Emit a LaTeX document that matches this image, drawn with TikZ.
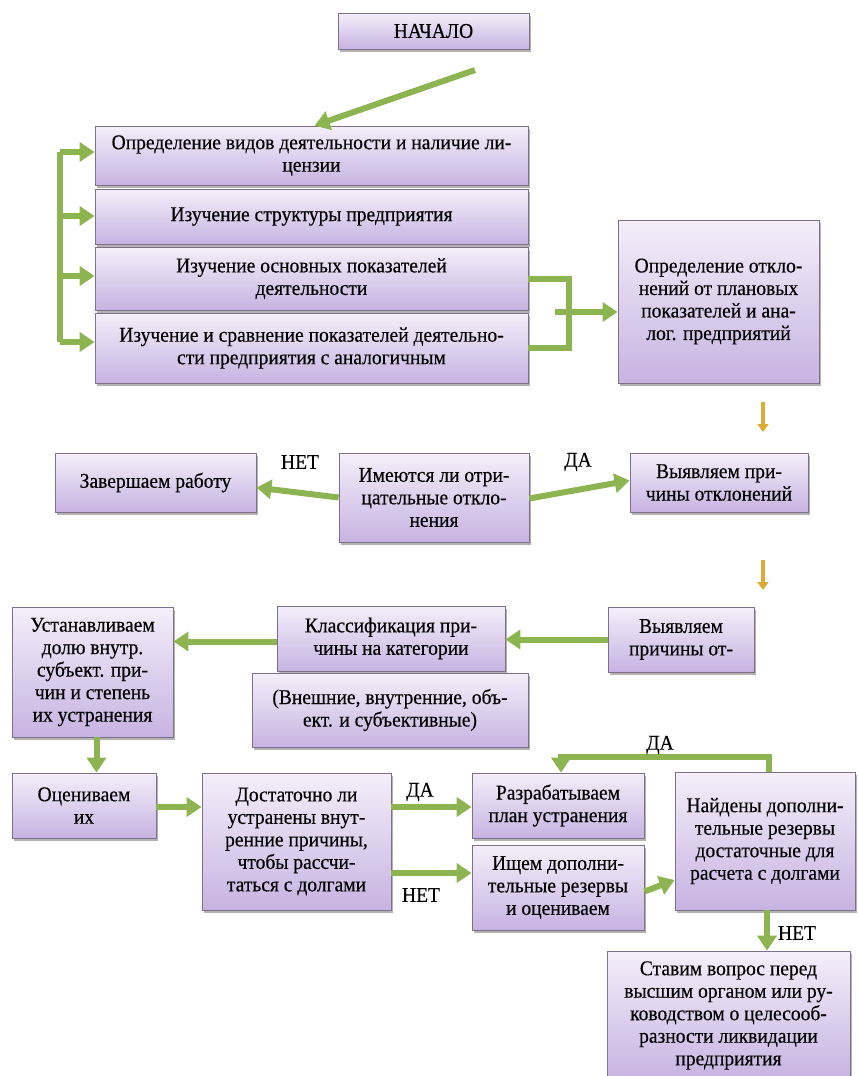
\documentclass[tikz,border=0pt]{standalone}
\usepackage{fontspec}
\setmainfont{Liberation Serif}[FakeStretch=0.93, FakeBold=0.3]
\usetikzlibrary{arrows.meta,shadows}

\definecolor{boxtop}{HTML}{F4EFFA}
\definecolor{boxbot}{HTML}{C7B3E2}
\definecolor{boxline}{HTML}{7D7189}
\definecolor{arrgreen}{HTML}{8CB552}
\definecolor{arrgold}{HTML}{DDAA35}

\begin{document}
\begin{tikzpicture}[x=1pt, y=-1pt,
  font=\fontsize{21}{22.5}\selectfont,
  box/.style={draw=boxline, thick, top color=boxtop, bottom color=boxbot,
    align=center, inner sep=2pt,
    drop shadow={shadow xshift=2pt, shadow yshift=-3pt, opacity=.3, fill=black}},
  garr/.style={draw=arrgreen, line width=6pt, -{Triangle[length=15pt,width=19pt]}},
  gline/.style={draw=arrgreen, line width=6pt},
  oarr/.style={draw=arrgold, line width=4pt, -{Triangle[length=8pt,width=11pt]}},
  lbl/.style={inner sep=0pt}]
  \useasboundingbox (0,0) rectangle (857,1076);

  % first block
  \node[box, minimum width=191pt, minimum height=36pt] (start) at (433.5,31) {НАЧАЛО};
  \node[box, minimum width=433pt, minimum height=59pt] (b1) at (311.5,155.5)
    {Определение видов деятельности и наличие ли-\\цензии};
  \node[box, minimum width=433pt, minimum height=55pt] (b2) at (311.5,216.5)
    {Изучение структуры предприятия};
  \node[box, minimum width=433pt, minimum height=63pt] (b3) at (311.5,278.5)
    {Изучение основных показателей\\деятельности};
  \node[box, minimum width=433pt, minimum height=70pt] (b4) at (311.5,348)
    {Изучение и сравнение показателей деятельно-\\сти предприятия с аналогичным};
  \node[box, minimum width=201pt, minimum height=163pt] (dev) at (718.5,301.5)
    {Определение откло-\\нений от плановых\\показателей и ана-\\лог. предприятий};

  % decision on deviations
  \node[box, minimum width=201pt, minimum height=59pt] (finish) at (155.5,482.5) {Завершаем работу};
  \node[box, minimum width=190pt, minimum height=89pt] (neg) at (434,497.5)
    {Имеются ли отри-\\цательные откло-\\нения};
  \node[box, minimum width=178pt, minimum height=59pt] (cause) at (719,482.5)
    {Выявляем при-\\чины отклонений};

  % causes
  \node[box, minimum width=146pt, minimum height=65pt] (cause2) at (681,639.5)
    {Выявляем\\причины от-};
  \node[box, minimum width=228pt, minimum height=65pt] (classif) at (391,638.5)
    {Классификация при-\\чины на категории};
  \node[box, minimum width=276pt, minimum height=74pt] (cats) at (390,710)
    {(Внешние, внутренние, объ-\\ект. и субъективные)};
  \node[box, minimum width=161pt, minimum height=130pt] (share) at (92.5,672)
    {Устанавливаем\\долю внутр.\\субъект. при-\\чин и степень\\их устранения};

  % debts
  \node[box, minimum width=144pt, minimum height=65pt] (eval) at (84,805.5) {Оцениваем\\их};
  \node[box, minimum width=189pt, minimum height=137pt] (enough) at (296.5,841.5)
    {Достаточно ли\\устранены внут-\\ренние причины,\\чтобы рассчи-\\таться с долгами};
  \node[box, minimum width=172pt, minimum height=65pt] (plan) at (558,805.5)
    {Разрабатываем\\план устранения};
  \node[box, minimum width=172pt, minimum height=85pt] (search) at (558,887.5)
    {Ищем дополни-\\тельные резервы\\и оцениваем};
  \node[box, minimum width=180pt, minimum height=138pt] (found) at (765,841)
    {Найдены дополни-\\тельные резервы\\достаточные для\\расчета с долгами};
  \node[box, minimum width=243pt, minimum height=129pt] (ask) at (728.5,1015.5)
    {Ставим вопрос перед\\высшим органом или ру-\\ководством о целесооб-\\разности ликвидации\\предприятия};

  % connectors
  \coordinate (s0) at (475,70);
  \draw[garr] (s0) -- ([xshift=220pt]b1.north west);
  \foreach \i/\yy in {1/152, 2/216, 3/276, 4/342}
    \coordinate (lb\i) at (60,\yy);
  \draw[gline] (lb1) -- (lb4);
  \foreach \i/\b in {1/b1, 2/b2, 3/b3, 4/b4}
    \draw[garr] (lb\i) -- (lb\i -| \b.west);
  \coordinate (rb) at (569,312);
  \coordinate (rbin) at (555,312);
  \draw[gline] (b3.east) -| (rb) |- (b4.east);
  \draw[garr] (rbin) -- (rbin -| dev.west);

  \coordinate (o1) at (763,402);
  \draw[oarr] (o1) -- ++(0,30);
  \draw[garr] (neg.west) -- ([yshift=-5pt]finish.east);
  \draw[garr] ([yshift=-1pt]neg.east) -- ([yshift=2pt]cause.west);
  \node[lbl] (no1) at (300,462) {НЕТ};
  \node[lbl] (yes1) at (578,462) {ДА};

  \coordinate (o2) at (763,560);
  \draw[oarr] (o2) -- ++(0,30);
  \draw[garr] (cause2.west) -- (cause2.west -| classif.east);
  \coordinate (cw) at ([yshift=-3pt]classif.west);
  \draw[garr] (cw) -- (cw -| share.east);
  \coordinate (ss) at ([xshift=4pt]share.south);
  \draw[garr] (ss) -- (ss |- eval.north);
  \coordinate (ee) at ([yshift=-1.5pt]eval.east);
  \draw[garr] (ee) -- (ee -| enough.west);
  \coordinate (pw) at ([yshift=-1.5pt]plan.west);
  \draw[garr] (pw -| enough.east) -- (pw);
  \node[lbl] (yes2) at (420,792) {ДА};
  \coordinate (sw) at ([yshift=14.5pt]search.west);
  \draw[garr] (sw -| enough.east) -- (sw);
  \node[lbl] (no2) at (421,895) {НЕТ};
  \draw[garr] ([yshift=-4pt]search.east) -- ([yshift=-39pt]found.west);
  \coordinate (lp) at (561,757);
  \draw[garr] ([xshift=4pt]found.north) |- (lp) -- (lp |- plan.north);
  \node[lbl] (yes3) at (660,745) {ДА};
  \coordinate (fs) at ([xshift=2pt]found.south);
  \draw[garr] (fs) -- (fs |- ask.north);
  \node[lbl] (no3) at (797,933) {НЕТ};
\end{tikzpicture}
\end{document}
